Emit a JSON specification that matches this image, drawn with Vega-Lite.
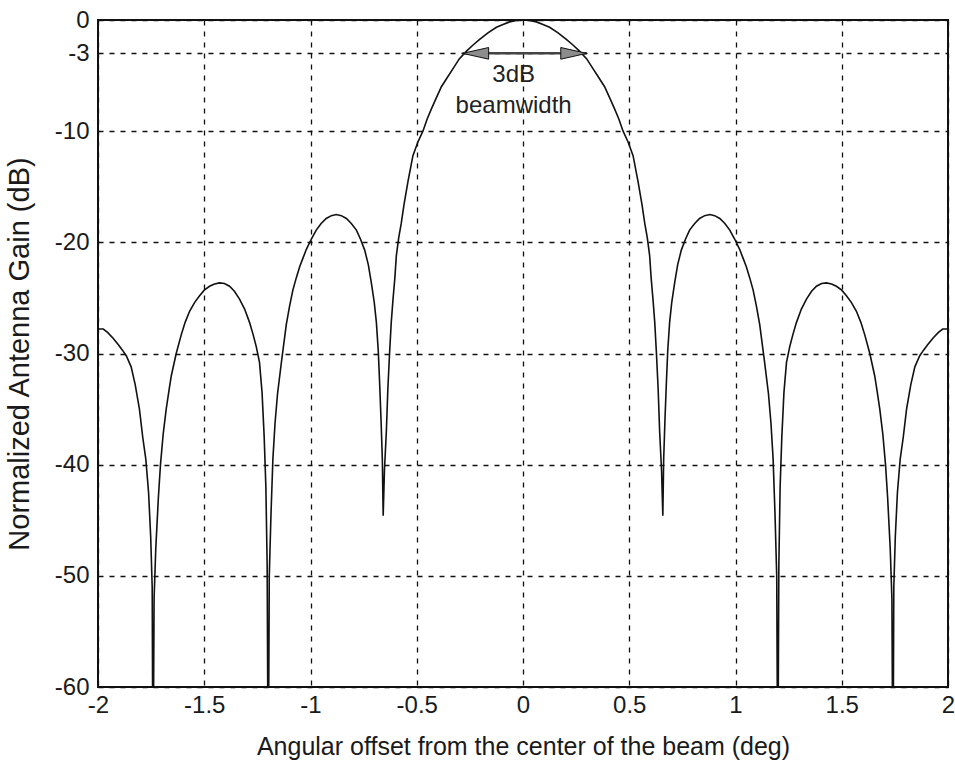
{
  "$schema": "https://vega.github.io/schema/vega-lite/v6.json",
  "width": 850,
  "height": 667,
  "autosize": {"type": "none"},
  "padding": {"left": 98, "top": 20, "right": 7, "bottom": 73},
  "background": "white",
  "config": {
    "font": "Liberation Sans",
    "view": {"stroke": "#111", "strokeWidth": 2},
    "axis": {
      "grid": true,
      "gridColor": "#111",
      "gridDash": [5, 6],
      "gridWidth": 1.3,
      "gridOpacity": 1,
      "domain": false,
      "ticks": false,
      "labelFontSize": 24,
      "labelColor": "#1a1a1a",
      "labelFlush": false,
      "labelOverlap": false,
      "titleFontSize": 25,
      "titleFontWeight": "normal",
      "titleColor": "#1a1a1a"
    }
  },
  "datasets": {
    "pattern": [
      {"x": -2, "g": -27.8}, {"x": -1.975, "g": -27.8}, {"x": -1.955, "g": -28.1}, {"x": -1.93, "g": -28.6},
      {"x": -1.905, "g": -29.2}, {"x": -1.885, "g": -29.7}, {"x": -1.867, "g": -30.2}, {"x": -1.844, "g": -31.2},
      {"x": -1.825, "g": -32.8}, {"x": -1.805, "g": -35}, {"x": -1.789, "g": -37.6}, {"x": -1.775, "g": -39.5},
      {"x": -1.762, "g": -42.5}, {"x": -1.752, "g": -46.5}, {"x": -1.745, "g": -51}, {"x": -1.741, "g": -70},
      {"x": -1.736, "g": -52}, {"x": -1.728, "g": -47.5}, {"x": -1.716, "g": -43}, {"x": -1.706, "g": -40},
      {"x": -1.693, "g": -37.2}, {"x": -1.679, "g": -35}, {"x": -1.665, "g": -33.2}, {"x": -1.655, "g": -32},
      {"x": -1.632, "g": -30}, {"x": -1.608, "g": -28.3}, {"x": -1.59, "g": -27.2}, {"x": -1.569, "g": -26.2},
      {"x": -1.545, "g": -25.4}, {"x": -1.522, "g": -24.8}, {"x": -1.5, "g": -24.3}, {"x": -1.475, "g": -23.95},
      {"x": -1.452, "g": -23.75}, {"x": -1.428, "g": -23.65}, {"x": -1.405, "g": -23.7}, {"x": -1.381, "g": -23.95},
      {"x": -1.358, "g": -24.4}, {"x": -1.334, "g": -25.1}, {"x": -1.31, "g": -26}, {"x": -1.287, "g": -27.2},
      {"x": -1.27, "g": -28.3}, {"x": -1.255, "g": -29.4}, {"x": -1.24, "g": -30.8}, {"x": -1.228, "g": -33.5},
      {"x": -1.218, "g": -37.5}, {"x": -1.21, "g": -42}, {"x": -1.204, "g": -49}, {"x": -1.199, "g": -70},
      {"x": -1.194, "g": -50}, {"x": -1.186, "g": -44.5}, {"x": -1.177, "g": -39.5}, {"x": -1.167, "g": -36.3},
      {"x": -1.155, "g": -33.6}, {"x": -1.137, "g": -30.8}, {"x": -1.114, "g": -27.4}, {"x": -1.098, "g": -25.7},
      {"x": -1.083, "g": -24.3}, {"x": -1.067, "g": -23.2}, {"x": -1.051, "g": -22.2}, {"x": -1.035, "g": -21.4},
      {"x": -1.02, "g": -20.65}, {"x": -0.996, "g": -19.7}, {"x": -0.973, "g": -18.9}, {"x": -0.95, "g": -18.3},
      {"x": -0.926, "g": -17.85}, {"x": -0.902, "g": -17.6}, {"x": -0.879, "g": -17.5}, {"x": -0.855, "g": -17.6},
      {"x": -0.831, "g": -17.85}, {"x": -0.808, "g": -18.3}, {"x": -0.784, "g": -18.9}, {"x": -0.765, "g": -19.7},
      {"x": -0.745, "g": -20.7}, {"x": -0.728, "g": -22}, {"x": -0.714, "g": -23.6}, {"x": -0.7, "g": -25.4},
      {"x": -0.69, "g": -27.2}, {"x": -0.681, "g": -29.8}, {"x": -0.675, "g": -32.5}, {"x": -0.668, "g": -36},
      {"x": -0.662, "g": -39.5}, {"x": -0.658, "g": -44.6}, {"x": -0.652, "g": -40.5}, {"x": -0.643, "g": -37},
      {"x": -0.636, "g": -33.2}, {"x": -0.628, "g": -30}, {"x": -0.62, "g": -27.2}, {"x": -0.612, "g": -25.2},
      {"x": -0.603, "g": -23.2}, {"x": -0.596, "g": -21.2}, {"x": -0.585, "g": -19.6}, {"x": -0.573, "g": -18.3},
      {"x": -0.56, "g": -16.6}, {"x": -0.541, "g": -14.5}, {"x": -0.518, "g": -12.2}, {"x": -0.495, "g": -11},
      {"x": -0.471, "g": -10}, {"x": -0.451, "g": -8.9}, {"x": -0.431, "g": -8}, {"x": -0.408, "g": -7},
      {"x": -0.384, "g": -6}, {"x": -0.357, "g": -5.2}, {"x": -0.33, "g": -4.4}, {"x": -0.3, "g": -3.5},
      {"x": -0.266, "g": -2.8}, {"x": -0.235, "g": -2.25}, {"x": -0.204, "g": -1.75}, {"x": -0.165, "g": -1.15},
      {"x": -0.125, "g": -0.65}, {"x": -0.094, "g": -0.4}, {"x": -0.063, "g": -0.17}, {"x": -0.031, "g": -0.05},
      {"x": 0, "g": 0},
      {"x": 0.031, "g": -0.05}, {"x": 0.063, "g": -0.17}, {"x": 0.094, "g": -0.4}, {"x": 0.125, "g": -0.65},
      {"x": 0.165, "g": -1.15}, {"x": 0.204, "g": -1.75}, {"x": 0.235, "g": -2.25}, {"x": 0.266, "g": -2.8},
      {"x": 0.3, "g": -3.5}, {"x": 0.33, "g": -4.4}, {"x": 0.357, "g": -5.2}, {"x": 0.384, "g": -6},
      {"x": 0.408, "g": -7}, {"x": 0.431, "g": -8}, {"x": 0.451, "g": -8.9}, {"x": 0.471, "g": -10},
      {"x": 0.495, "g": -11}, {"x": 0.518, "g": -12.2}, {"x": 0.541, "g": -14.5}, {"x": 0.56, "g": -16.6},
      {"x": 0.573, "g": -18.3}, {"x": 0.585, "g": -19.6}, {"x": 0.596, "g": -21.2}, {"x": 0.603, "g": -23.2},
      {"x": 0.612, "g": -25.2}, {"x": 0.62, "g": -27.2}, {"x": 0.628, "g": -30}, {"x": 0.636, "g": -33.2},
      {"x": 0.643, "g": -37}, {"x": 0.652, "g": -40.5}, {"x": 0.658, "g": -44.6}, {"x": 0.662, "g": -39.5},
      {"x": 0.668, "g": -36}, {"x": 0.675, "g": -32.5}, {"x": 0.681, "g": -29.8}, {"x": 0.69, "g": -27.2},
      {"x": 0.7, "g": -25.4}, {"x": 0.714, "g": -23.6}, {"x": 0.728, "g": -22}, {"x": 0.745, "g": -20.7},
      {"x": 0.765, "g": -19.7}, {"x": 0.784, "g": -18.9}, {"x": 0.808, "g": -18.3}, {"x": 0.831, "g": -17.85},
      {"x": 0.855, "g": -17.6}, {"x": 0.879, "g": -17.5}, {"x": 0.902, "g": -17.6}, {"x": 0.926, "g": -17.85},
      {"x": 0.95, "g": -18.3}, {"x": 0.973, "g": -18.9}, {"x": 0.996, "g": -19.7}, {"x": 1.02, "g": -20.65},
      {"x": 1.035, "g": -21.4}, {"x": 1.051, "g": -22.2}, {"x": 1.067, "g": -23.2}, {"x": 1.083, "g": -24.3},
      {"x": 1.098, "g": -25.7}, {"x": 1.114, "g": -27.4}, {"x": 1.137, "g": -30.8}, {"x": 1.155, "g": -33.6},
      {"x": 1.167, "g": -36.3}, {"x": 1.177, "g": -39.5}, {"x": 1.186, "g": -44.5}, {"x": 1.194, "g": -50},
      {"x": 1.199, "g": -70}, {"x": 1.204, "g": -49}, {"x": 1.21, "g": -42}, {"x": 1.218, "g": -37.5},
      {"x": 1.228, "g": -33.5}, {"x": 1.24, "g": -30.8}, {"x": 1.255, "g": -29.4}, {"x": 1.27, "g": -28.3},
      {"x": 1.287, "g": -27.2}, {"x": 1.31, "g": -26}, {"x": 1.334, "g": -25.1}, {"x": 1.358, "g": -24.4},
      {"x": 1.381, "g": -23.95}, {"x": 1.405, "g": -23.7}, {"x": 1.428, "g": -23.65}, {"x": 1.452, "g": -23.75},
      {"x": 1.475, "g": -23.95}, {"x": 1.5, "g": -24.3}, {"x": 1.522, "g": -24.8}, {"x": 1.545, "g": -25.4},
      {"x": 1.569, "g": -26.2}, {"x": 1.59, "g": -27.2}, {"x": 1.608, "g": -28.3}, {"x": 1.632, "g": -30},
      {"x": 1.655, "g": -32}, {"x": 1.665, "g": -33.2}, {"x": 1.679, "g": -35}, {"x": 1.693, "g": -37.2},
      {"x": 1.706, "g": -40}, {"x": 1.716, "g": -43}, {"x": 1.728, "g": -47.5}, {"x": 1.736, "g": -52},
      {"x": 1.741, "g": -70}, {"x": 1.745, "g": -51}, {"x": 1.752, "g": -46.5}, {"x": 1.762, "g": -42.5},
      {"x": 1.775, "g": -39.5}, {"x": 1.789, "g": -37.6}, {"x": 1.805, "g": -35}, {"x": 1.825, "g": -32.8},
      {"x": 1.844, "g": -31.2}, {"x": 1.867, "g": -30.2}, {"x": 1.885, "g": -29.7}, {"x": 1.905, "g": -29.2},
      {"x": 1.93, "g": -28.6}, {"x": 1.955, "g": -28.1}, {"x": 1.975, "g": -27.8}, {"x": 2, "g": -27.8}
    ],
    "beamwidth": [
      {"left": -0.284, "right": 0.3, "level": -3}
    ],
    "notes": [
      {"text": "3dB", "x": -0.044, "g": -4.95},
      {"text": "beamwidth", "x": -0.044, "g": -7.7}
    ]
  },
  "layer": [
    {
      "data": {"name": "pattern"},
      "mark": {"type": "line", "color": "#111", "strokeWidth": 1.6, "clip": true},
      "encoding": {
        "x": {
          "field": "x",
          "type": "quantitative",
          "scale": {"domain": [-2, 2], "nice": false, "zero": false},
          "axis": {
            "values": [-2, -1.5, -1, -0.5, 0, 0.5, 1, 1.5, 2],
            "labelExpr": "'' + datum.value",
            "labelPadding": 6,
            "title": "Angular offset from the center of the beam (deg)",
            "titleBaseline": "alphabetic",
            "titleY": 67
          }
        },
        "y": {
          "field": "g",
          "type": "quantitative",
          "scale": {"domain": [-60, 0], "nice": false, "zero": false},
          "axis": {
            "values": [-60, -50, -40, -30, -20, -10, -3, 0],
            "labelExpr": "'' + datum.value",
            "labelPadding": 9,
            "title": "Normalized Antenna Gain (dB)",
            "titleFontSize": 29,
            "titleBaseline": "alphabetic",
            "titleX": -70
          }
        }
      }
    },
    {
      "data": {"name": "beamwidth"},
      "mark": {"type": "rule", "color": "#444", "strokeWidth": 2.5},
      "encoding": {
        "x": {"field": "left", "type": "quantitative"},
        "x2": {"field": "right"},
        "y": {"field": "level", "type": "quantitative"}
      }
    },
    {
      "data": {"name": "beamwidth"},
      "mark": {"type": "point", "shape": "M0,0L2,-0.45L2,0.45Z", "size": 676, "filled": true, "fill": "#8c8c8c", "stroke": "#111", "strokeWidth": 1, "opacity": 1},
      "encoding": {
        "x": {"field": "left", "type": "quantitative"},
        "y": {"field": "level", "type": "quantitative"}
      }
    },
    {
      "data": {"name": "beamwidth"},
      "mark": {"type": "point", "shape": "M0,0L-2,-0.45L-2,0.45Z", "size": 676, "filled": true, "fill": "#8c8c8c", "stroke": "#111", "strokeWidth": 1, "opacity": 1},
      "encoding": {
        "x": {"field": "right", "type": "quantitative"},
        "y": {"field": "level", "type": "quantitative"}
      }
    },
    {
      "data": {"name": "notes"},
      "mark": {"type": "text", "fontSize": 24, "color": "#222", "align": "center", "baseline": "middle"},
      "encoding": {
        "x": {"field": "x", "type": "quantitative"},
        "y": {"field": "g", "type": "quantitative"},
        "text": {"field": "text"}
      }
    }
  ]
}
